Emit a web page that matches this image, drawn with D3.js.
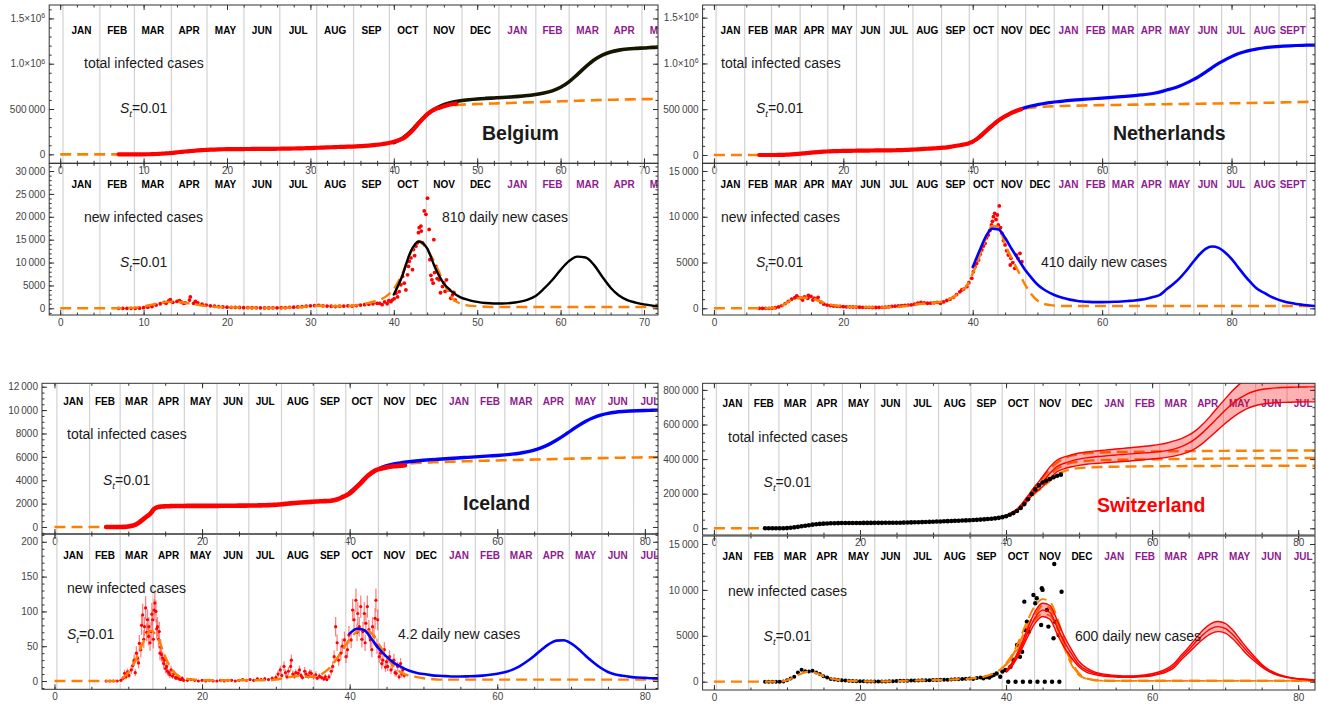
<!DOCTYPE html>
<html>
<head>
<meta charset="utf-8">
<script src="https://cdn.jsdelivr.net/npm/d3@7"></script>
<style>
body { margin: 0; background: #fff; }
svg text { font-family: "Liberation Sans", Arial, sans-serif; }
</style>
</head>
<body>
<svg id="chart" width="1318" height="705"></svg>
<script>
// month boundaries, in weeks counted from the end of Dec 2019
var monthStarts = [0.33, 4.76, 8.9, 13.33, 17.6, 22.03, 26.33, 30.76, 35.18, 39.47, 43.9, 48.18,
    52.6, 57.03, 61.03, 65.46, 69.76, 74.18, 78.47, 82.9, 87.33, 91.6];
var monthsYear1 = ["JAN", "FEB", "MAR", "APR", "MAY", "JUN", "JUL", "AUG", "SEP", "OCT", "NOV", "DEC"];
var monthsYear2 = ["JAN", "FEB", "MAR", "APR", "MAY", "JUN", "JUL", "AUG", "SEPT"];

// tick values
var beXTicks = [0, 10, 20, 30, 40, 50, 60, 70];
var wideXTicks = [0, 20, 40, 60, 80];
var beTotalTicks = [0, 500000, 1000000, 1500000];
var beNewTicks = [0, 5000, 10000, 15000, 20000, 25000, 30000];
var nlTotalTicks = [0, 500000, 1000000, 1500000];
var nlNewTicks = [0, 5000, 10000, 15000];
var icTotalTicks = [0, 2000, 4000, 6000, 8000, 10000, 12000];
var icNewTicks = [0, 50, 100, 150, 200];
var swTotalTicks = [0, 200000, 400000, 600000, 800000];
var swNewTicks = [0, 5000, 10000, 15000];

// ---------------- Belgium ----------------
// data sampled every half week from week 7
var beTotalData = [0, 0, 0, 1, 2, 50, 200, 700, 1500, 3400,
    6200, 9100, 12000, 16700, 22200, 26700, 31100, 35000, 39000, 42800,
    46100, 48500, 51000, 53000, 54600, 55800, 56800, 57300, 57800, 58200,
    58400, 58800, 59200, 59600, 60000, 60300, 60700, 61000, 61400, 61900,
    62500, 63300, 64300, 65400, 66700, 68000, 69400, 71000, 72800, 74700,
    76500, 78300, 80000, 81500, 83000, 84500, 86000, 88000, 90500, 93500,
    97000, 101000, 106000, 111000, 118000, 127000, 138000, 153000, 170000, 200000,
    240000, 290000, 345000, 395000, 440000, 475000, 500000, 515000, 530000, 544000,
    553000, 560000];
// model, weekly from week 40
var beTotalModel = [130000, 175000, 250000, 350000, 440000, 505000, 548000, 575000, 592000, 603000,
    611000, 617000, 622000, 627000, 633000, 640000, 649000, 660000, 676000, 700000,
    740000, 800000, 880000, 965000, 1040000, 1095000, 1130000, 1150000, 1162000, 1169000,
    1174000, 1180000, 1184000];
// first-wave fit, weekly from week 0
var beTotalFit = [0, 0, 0, 0, 0, 0, 0, 0, 0, 100,
    200, 1500, 6000, 12000, 22000, 31000, 39000, 46000, 51000, 54500,
    56800, 57800, 58400, 59200, 60000, 60700, 61400, 62500, 64300, 66700,
    69400, 72800, 76500, 80000, 83000, 86000, 90500, 97000, 106000, 118000,
    135000, 170000, 240000, 345000, 440000, 500000, 525000, 540000, 548000, 552000,
    555000, 558000, 561000, 564000, 567000, 570000, 573000, 576000, 579000, 582000,
    585000, 588000, 591000, 594000, 597000, 600000, 602000, 604000, 606000, 608000,
    609000, 610000, 611000];
var beNewEarly = [0, 0, 0, 0, 5, 40, 150, 250, 400, 700,
    1000, 1300, 1600, 1300, 1500, 1400, 1200, 1800, 1100, 1200,
    900, 700, 550, 450, 350, 300, 250, 220, 200, 180,
    150, 130, 120, 100, 100, 90, 90, 100, 100, 120,
    150, 200, 250, 300, 350, 450, 550, 600, 650, 550,
    500, 450, 400, 450, 500, 550, 500, 600, 700, 800,
    900, 1000, 1100];
var beNewScatter = [[12.7, 1100], [13.2, 1900], [14.3, 1700], [14.8, 1100], [15.6, 2500], [16.2, 1500],
    [38.3, 1100], [38.6, 800], [38.9, 1400], [39.2, 1000], [39.4, 1700], [39.65, 1450], [39.8, 1800],
    [40.05, 2100], [40.25, 3300], [40.45, 2500], [40.65, 3660], [40.85, 5130], [41.05, 6960], [41.25, 5500],
    [41.45, 4030], [41.65, 7330], [41.76, 9160], [41.85, 10260], [42.05, 11010], [42.24, 8440], [42.36, 12840],
    [42.5, 11500], [42.65, 13570], [42.84, 14320], [42.96, 16520], [43.05, 17620], [43.25, 17970], [43.3, 16870],
    [43.44, 14320], [43.65, 21280], [43.85, 20550], [44.04, 24070], [44.24, 17250], [44.33, 10640], [44.45, 7200],
    [44.57, 6230], [44.72, 5500], [44.8, 15000], [44.9, 7800], [45.05, 9160], [45.2, 6500], [45.44, 6230],
    [45.6, 3400], [45.84, 4760], [46.0, 5600], [46.15, 3700], [46.32, 6230], [46.45, 4300], [46.64, 4030],
    [46.84, 2200], [47.04, 2930], [47.2, 3500], [47.35, 1800]];
var beNewModel = [3000, 7000, 12300, 14600, 13100, 8700, 5400, 3600, 2400, 1800,
    1400, 1150, 1050, 1050, 1150, 1400, 1850, 2700, 4300, 6200,
    8400, 10300, 11300, 11100, 9500, 6900, 4500, 2800, 1800, 1250,
    850, 600, 450];
var beNewFit = [0, 0, 0, 0, 0, 0, 0, 0, 50, 150,
    400, 800, 1200, 1400, 1400, 1200, 900, 600, 400, 300,
    250, 200, 150, 120, 100, 100, 100, 120, 200, 300,
    450, 550, 500, 450, 450, 550, 800, 1200, 1700, 2500,
    4200, 7500, 12000, 14700, 12800, 9600, 5600, 2200, 1000, 600,
    450, 350, 300, 300, 300, 300, 300, 300, 300, 300,
    300, 300, 300, 300, 300, 300, 300, 300, 300, 300,
    300, 300, 300];

// ---------------- Netherlands ----------------
var nlTotalData = [0, 0, 0, 0, 20, 150, 500, 1200, 2500, 4200,
    6400, 9000, 11800, 15000, 18500, 22000, 25500, 28500, 31500, 34000,
    36500, 38500, 40000, 41500, 42700, 43700, 44500, 45200, 45800, 46300,
    46700, 47200, 47700, 48200, 48700, 49100, 49500, 49900, 50200, 50600,
    51000, 51500, 52100, 52900, 53900, 55000, 56300, 58000, 60000, 62000,
    64000, 66000, 68000, 70000, 72000, 74500, 77000, 80000, 84000, 89000,
    95000, 101000, 107000, 113000, 120000, 132000, 147000, 168000, 195000, 225000,
    258000, 290000, 320000, 350000, 378000, 402000, 423000, 442000, 460000, 475000,
    488000, 499000];
var nlTotalModel = [147000, 195000, 258000, 320000, 378000, 423000, 460000, 490000, 515000, 535000,
    550000, 563000, 573000, 582000, 589000, 596000, 602000, 607000, 612000, 617000,
    622000, 627000, 632000, 637000, 643000, 649000, 656000, 664000, 675000, 690000,
    710000, 730000, 755000, 785000, 820000, 860000, 905000, 955000, 1000000, 1040000,
    1075000, 1105000, 1128000, 1145000, 1160000, 1170000, 1178000, 1184000, 1189000, 1193000,
    1196000, 1198000, 1200000, 1201000];
var nlTotalFit = [0, 0, 0, 0, 0, 0, 0, 0, 0, 100,
    500, 2500, 6400, 11800, 18500, 25500, 31500, 36500, 40000, 42700,
    44500, 45800, 46700, 47700, 48700, 49500, 50200, 51000, 52100, 53900,
    56300, 60000, 64000, 68000, 72000, 77000, 84000, 95000, 107000, 120000,
    147000, 195000, 258000, 320000, 378000, 423000, 458000, 490000, 505000, 516000,
    523000, 528000, 531000, 534000, 536000, 538000, 539500, 541000, 542500, 544000,
    545000, 546000, 547000, 548000, 549000, 550000, 551000, 552000, 553000, 554000,
    555000, 556000, 557000, 558000, 559000, 560000, 561000, 562000, 563000, 564000,
    565000, 566000, 567000, 568000, 569000, 570000, 571500, 573000, 574500, 576000,
    577500, 579000, 580500, 582000];
var nlNewEarly = [0, 0, 0, 0, 10, 60, 150, 300, 500, 750,
    1000, 1150, 1200, 1100, 1250, 1100, 1300, 1100, 950, 700,
    450, 350, 300, 250, 220, 200, 180, 160, 150, 140,
    130, 120, 110, 100, 100, 90, 90, 100, 110, 120,
    150, 200, 230, 260, 300, 330, 350, 380, 450, 550,
    650, 600, 550, 560, 600, 650, 550, 700, 850, 1000,
    1200, 1500, 1800];
var nlNewScatter = [[12.8, 1350], [13.7, 900], [14.6, 1400], [15.3, 900], [16.1, 1200],
    [38.3, 2000], [38.6, 2100], [39.1, 2360], [39.4, 2800], [39.85, 3275], [40.1, 4000], [40.35, 4545],
    [40.6, 4900], [40.9, 5280], [41.15, 5900], [41.4, 6370], [41.65, 6800], [41.9, 7100], [42.15, 7700],
    [42.4, 8010], [42.65, 8500], [42.9, 9100], [43.05, 9500], [43.2, 10010], [43.4, 10370], [43.6, 9700],
    [43.8, 10190], [43.95, 9100], [44.1, 11180], [44.3, 8800], [44.5, 8190], [44.75, 7400], [45.0, 6920],
    [45.25, 6300], [45.5, 5820], [45.8, 4730], [45.9, 5460], [46.2, 5000], [46.5, 4370], [46.75, 5800],
    [47.0, 5460], [47.3, 6010], [47.6, 5090]];
var nlNewModel = [4500, 6200, 7800, 8700, 8600, 7700, 6500, 5400, 4300, 3400,
    2600, 2050, 1650, 1350, 1120, 950, 830, 750, 700, 680,
    680, 690, 710, 750, 800, 860, 950, 1080, 1250, 1500,
    2100, 2650, 3300, 4100, 5000, 5850, 6500, 6750, 6600, 6100,
    5400, 4500, 3600, 2800, 2100, 1700, 1300, 1000, 780, 600,
    470, 380, 300, 250];
var nlNewFit = [0, 0, 0, 0, 0, 0, 0, 0, 0, 20,
    150, 500, 900, 1100, 1150, 1100, 900, 600, 400, 280,
    200, 170, 150, 130, 110, 100, 100, 110, 150, 200,
    280, 380, 480, 550, 600, 700, 900, 1200, 1800, 2400,
    3800, 5600, 7600, 9000, 8900, 7000, 5500, 4100, 2700, 1600,
    850, 500, 350, 280, 250, 250, 250, 250, 250, 250,
    250, 250, 250, 250, 250, 250, 250, 250, 250, 250,
    250, 250, 250, 250, 250, 250, 250, 250, 250, 250,
    250, 250, 250, 250, 250, 250, 250, 250, 250, 250,
    250, 250, 250, 250];

// ---------------- Iceland ----------------
var icTotalData = [0, 0, 0, 0, 2, 10, 40, 100, 200, 400,
    650, 900, 1150, 1550, 1700, 1750, 1770, 1780, 1790, 1795,
    1800, 1802, 1803, 1805, 1806, 1806, 1807, 1807, 1808, 1808,
    1810, 1812, 1815, 1818, 1820, 1822, 1825, 1828, 1832, 1836,
    1840, 1845, 1850, 1860, 1870, 1885, 1900, 1930, 1960, 1990,
    2020, 2050, 2080, 2100, 2120, 2140, 2160, 2180, 2200, 2210,
    2220, 2250, 2300, 2400, 2550, 2700, 2880, 3150, 3450, 3750,
    4100, 4400, 4650, 4850, 4950, 5030, 5100, 5150, 5190, 5220,
    5250, 5280];
var icTotalModel = [2950, 3500, 4100, 4600, 5000, 5250, 5400, 5500, 5580, 5650,
    5710, 5760, 5800, 5840, 5880, 5920, 5960, 6000, 6040, 6080,
    6120, 6170, 6230, 6310, 6420, 6580, 6790, 7070, 7420, 7820,
    8250, 8670, 9050, 9350, 9570, 9720, 9820, 9880, 9920, 9950,
    9970, 9985, 10000];
var icTotalFit = [0, 0, 0, 0, 0, 0, 0, 0, 0, 2,
    40, 200, 650, 1150, 1700, 1770, 1790, 1800, 1803, 1806,
    1807, 1808, 1810, 1815, 1820, 1825, 1832, 1840, 1850, 1870,
    1900, 1960, 2020, 2080, 2120, 2160, 2200, 2220, 2300, 2550,
    2880, 3450, 4100, 4600, 4950, 5150, 5280, 5370, 5430, 5470,
    5500, 5525, 5550, 5570, 5590, 5610, 5630, 5650, 5665, 5680,
    5695, 5710, 5725, 5740, 5755, 5770, 5785, 5800, 5815, 5830,
    5845, 5860, 5872, 5884, 5896, 5908, 5920, 5930, 5940, 5948,
    5955, 5962, 5970];
// daily cases: [week, cases, error]
var icNewData = [[7, 0, 0], [7.5, 0, 0], [8, 0, 0], [8.5, 0, 0], [9, 1, 1],
    [9.3, 4, 3], [9.5, 11, 5], [9.7, 6, 4], [9.9, 13, 5], [10.1, 8, 4], [10.4, 16, 6], [10.6, 22, 7],
    [10.8, 30, 8], [10.95, 12, 5], [11.1, 40, 10], [11.25, 33, 9], [11.4, 26, 8], [11.5, 54, 12],
    [11.7, 45, 11], [11.8, 80, 14], [11.95, 95, 16], [12.1, 60, 13], [12.2, 78, 14], [12.35, 105, 17],
    [12.5, 70, 13], [12.6, 88, 15], [12.75, 64, 13], [12.8, 78, 14], [12.95, 55, 12], [13.1, 71, 14],
    [13.2, 96, 16], [13.3, 88, 15], [13.4, 60, 13], [13.5, 102, 16], [13.6, 112, 17], [13.75, 100, 16],
    [13.85, 75, 14], [13.96, 78, 14], [14.1, 60, 13], [14.2, 71, 14], [14.3, 40, 10], [14.4, 49, 11],
    [14.5, 38, 10], [14.65, 33, 9], [14.8, 25, 8], [14.9, 30, 9], [15.05, 18, 7], [15.2, 21, 7],
    [15.3, 14, 6], [15.5, 12, 5], [15.65, 9, 5], [15.8, 16, 6], [16.0, 7, 4], [16.2, 11, 5],
    [16.4, 5, 3], [16.5, 4, 3], [16.7, 6, 4], [16.9, 3, 3], [17.1, 2, 2], [17.3, 4, 3], [17.5, 1, 2],
    [18, 1, 2], [18.5, 2, 2], [19, 1, 1], [19.5, 0, 1], [20, 1, 1], [20.5, 0, 1], [21, 1, 1],
    [21.5, 0, 1], [22, 0, 1], [22.5, 1, 1], [23, 0, 1], [23.5, 1, 1], [24, 1, 1], [24.5, 0, 1],
    [25, 1, 2], [25.5, 2, 2], [26, 1, 1], [26.5, 2, 2], [27, 1, 2], [27.5, 3, 3], [28, 2, 2],
    [28.5, 3, 3], [29, 2, 2], [29.5, 4, 3],
    [30, 5, 4], [30.3, 10, 5], [30.6, 16, 6], [30.8, 8, 4], [31.1, 21, 7], [31.3, 12, 5], [31.5, 6, 4],
    [31.7, 14, 6], [32.0, 21, 7], [32.1, 30, 8], [32.3, 10, 5], [32.5, 7, 4], [32.7, 12, 5], [33.0, 11, 5],
    [33.2, 16, 6], [33.4, 8, 4], [33.6, 5, 3], [33.9, 14, 6], [34.1, 10, 5], [34.4, 7, 4], [34.6, 12, 5],
    [34.8, 11, 5], [35.1, 6, 4], [35.4, 9, 5], [35.6, 4, 3], [35.9, 7, 4], [36.2, 5, 3], [36.5, 3, 3],
    [36.7, 6, 4], [36.9, 2, 2], [37.2, 6, 4],
    [37.5, 14, 6], [37.7, 21, 7], [37.9, 35, 9], [38.1, 78, 14], [38.3, 55, 12], [38.5, 30, 8],
    [38.8, 40, 10], [39.0, 50, 11], [39.3, 59, 12], [39.5, 35, 9], [39.7, 45, 11], [39.9, 66, 13],
    [40.2, 59, 12], [40.4, 102, 16], [40.6, 88, 15], [40.85, 116, 17], [41.0, 70, 13], [41.1, 97, 16],
    [41.3, 78, 14], [41.5, 107, 16], [41.65, 60, 12], [41.8, 71, 14], [41.98, 97, 16], [42.1, 55, 12],
    [42.2, 83, 15], [42.4, 107, 16], [42.6, 74, 14], [42.8, 59, 12], [43.0, 45, 11], [43.1, 78, 14],
    [43.3, 64, 13], [43.45, 90, 15], [43.56, 116, 17], [43.7, 50, 11], [43.8, 88, 15], [44.0, 35, 9],
    [44.2, 40, 10], [44.35, 25, 8], [44.5, 30, 9], [44.7, 45, 11], [44.85, 20, 7], [45.0, 28, 8],
    [45.15, 21, 7], [45.4, 35, 9], [45.6, 16, 6], [45.8, 24, 8], [46.0, 30, 9], [46.15, 12, 5],
    [46.3, 11, 5], [46.5, 21, 7], [46.7, 6, 4], [46.9, 25, 8], [47.05, 10, 5], [47.2, 16, 6], [47.4, 8, 4]];
var icNewModel = [68, 75, 73, 60, 46, 35, 26, 20, 15, 12,
    10, 8.5, 7.5, 7, 6.5, 6.5, 6.7, 7, 7.8, 9,
    10.5, 12.5, 16, 21, 28, 36, 45, 53, 58, 58.5,
    54, 46, 36, 27, 19, 13, 9.5, 7.5, 6, 5,
    4.5, 4, 3.8];
var icNewFit = [0, 0, 0, 0, 0, 0, 0, 0, 0, 3,
    12, 30, 55, 72, 62, 35, 15, 6, 3, 2,
    1, 1, 1, 1, 1, 1, 1, 1, 1, 1,
    2, 4, 6, 7, 6, 6, 9, 16, 28, 44,
    60, 71, 75, 68, 52, 35, 21, 12, 8, 6,
    4, 3, 2, 2, 2, 2, 2, 2, 2, 2,
    2, 2, 2, 2, 2, 2, 2, 2, 2, 2,
    2, 2, 2, 2, 2, 2, 2, 2, 2, 2,
    2, 2, 2];

// ---------------- Switzerland ----------------
var swTotalData = [0, 0, 0, 10, 30, 300, 1200, 3000, 5500, 8500,
    12000, 15000, 18000, 21000, 23500, 25500, 27000, 28200, 29000, 29600,
    30000, 30300, 30500, 30700, 30800, 30900, 31000, 31100, 31200, 31300,
    31400, 31500, 31600, 31700, 31800, 32000, 32200, 32500, 32900, 33400,
    34000, 34600, 35300, 36000, 36700, 37400, 38100, 38900, 39700, 40500,
    41300, 42100, 43000, 43900, 44800, 45700, 46600, 47700, 48900, 50200,
    51700, 53400, 55300, 57600, 60500, 64500, 70000, 78000, 88000, 100000,
    118000, 140000, 168000, 198000, 225000, 248000, 265000, 275000, 285000, 295000,
    304000, 310000];
var swTotalMid = [72000, 92000, 125000, 175000, 225000, 266000, 318000, 358000, 376000, 390000,
    400000, 407000, 412000, 416000, 420000, 424000, 427000, 430000, 433000, 436000,
    439000, 443000, 449000, 458000, 472000, 492000, 520000, 556000, 597000, 640000,
    682000, 720000, 752000, 776000, 792000, 802000, 808000, 812000, 814000, 815500,
    816500, 817000, 817500, 818000];
var swTotalHi = [74000, 96000, 132000, 188000, 245000, 298000, 355000, 395000, 413000, 425000,
    435000, 441000, 446000, 450000, 454000, 458000, 462000, 466000, 470000, 474000,
    479000, 485000, 493000, 505000, 518000, 538000, 566000, 604000, 650000, 700000,
    748000, 795000, 835000, 866000, 886000, 899000, 907000, 912000, 915000, 917000,
    918500, 919500, 920000, 920500];
var swTotalLo = [70000, 88000, 118000, 163000, 207000, 240000, 288000, 328000, 345000, 356000,
    364000, 370000, 374000, 377000, 380000, 383000, 386000, 389000, 393000, 397000,
    401000, 405000, 410000, 417000, 427000, 442000, 464000, 494000, 531000, 569000,
    606000, 640000, 669000, 692000, 707000, 717000, 723000, 726000, 728000, 729000,
    730000, 730500, 731000, 731000];
var swTotalFitMid = [0, 0, 0, 0, 0, 0, 0, 0, 0, 30,
    1200, 5500, 12000, 18000, 23500, 27000, 29000, 30000, 30500, 30800,
    31000, 31200, 31400, 31600, 31800, 32200, 32900, 34000, 35300, 36700,
    38100, 39700, 41300, 43000, 44800, 46600, 48900, 51700, 55300, 60500,
    70000, 90000, 125000, 175000, 225000, 266000, 310000, 345000, 368000, 380000,
    386000, 390000, 392500, 394000, 395000, 395800, 396500, 397200, 397800, 398400,
    399000, 399500, 400000, 400500, 401000, 401400, 401800, 402200, 402600, 403000,
    403300, 403600, 403900, 404200, 404500, 404800, 405000, 405200, 405400, 405600,
    405800, 406000, 406200, 406400];
var swTotalFitHi = [72000, 93000, 130000, 185000, 240000, 290000, 340000, 380000, 405000, 420000,
    428000, 433000, 436000, 438000, 439500, 440500, 441300, 442000, 442700, 443300,
    443900, 444400, 444900, 445300, 445700, 446100, 446500, 446800, 447100, 447400,
    447700, 448000, 448200, 448400, 448600, 448800, 449000, 449200, 449300, 449400,
    449500, 449600, 449700, 449800];
var swTotalFitLo = [68000, 87000, 118000, 162000, 205000, 238000, 275000, 310000, 330000, 342000,
    348000, 351000, 353000, 354500, 355500, 356200, 356800, 357300, 357800, 358200,
    358600, 358900, 359200, 359500, 359700, 359900, 360100, 360300, 360500, 360600,
    360700, 360800, 360900, 361000, 361100, 361200, 361300, 361400, 361500, 361500,
    361600, 361600, 361700, 361700];
var swNewEarly = [0, 0, 0, 0, 5, 30, 150, 350, 550, 1000,
    1300, 1150, 1100, 1200, 1000, 850, 600, 450, 300, 250,
    180, 150, 120, 100, 80, 60, 50, 40, 30, 30,
    25, 25, 20, 30, 40, 60, 80, 90, 100, 110,
    120, 130, 140, 150, 160, 170, 180, 190, 200, 210,
    220, 240, 260, 280, 300, 320, 350, 300, 400, 450];
var swNewScatter = [[36.9, 370], [37.3, 500], [37.7, 450], [38.0, 650], [38.3, 730], [38.7, 900],
    [39.2, 545], [39.5, 1100], [39.9, 1270], [40.3, 0], [40.6, 1630], [41.0, 2360], [41.3, 0],
    [41.5, 4000], [41.9, 2720], [42.2, 3270], [42.3, 0], [42.5, 8720], [42.6, 5630], [42.85, 6540],
    [43.1, 5450], [43.3, 0], [43.75, 9450], [44.0, 8540], [44.2, 9090], [44.3, 0], [44.8, 6180],
    [44.9, 10180], [45.0, 10000], [45.3, 0], [45.6, 7810], [45.8, 6000], [46.3, 0], [46.5, 4730],
    [46.6, 12820], [46.7, 6540], [47.2, 5090], [47.3, 0], [47.6, 9800]];
var swNewMid = [1100, 2100, 3600, 5400, 7000, 7800, 7550, 5900, 4300, 3000,
    1850, 1250, 950, 770, 650, 590, 560, 560, 585, 645,
    750, 940, 1240, 1740, 2650, 3450, 4350, 5150, 5750, 6000,
    5820, 5170, 4250, 3300, 2500, 1750, 1200, 830, 580, 420,
    310, 245, 195, 165];
var swNewHi = [1200, 2300, 3900, 5900, 7700, 8550, 8300, 6700, 4900, 3450,
    2200, 1500, 1100, 880, 750, 670, 630, 630, 660, 730,
    860, 1080, 1420, 1980, 2900, 3750, 4750, 5650, 6300, 6550,
    6350, 5650, 4650, 3650, 2750, 1900, 1300, 900, 630, 450,
    330, 260, 210, 175];
var swNewLo = [1000, 1900, 3300, 4950, 6400, 7100, 6800, 5200, 3700, 2550,
    1600, 1050, 800, 650, 560, 510, 490, 490, 510, 560,
    650, 820, 1080, 1520, 2400, 3150, 3950, 4650, 5200, 5450,
    5300, 4700, 3850, 2950, 2250, 1600, 1100, 760, 540, 390,
    290, 230, 185, 155];
var swNewFitMid = [0, 0, 0, 0, 0, 0, 0, 0, 0, 10,
    150, 500, 900, 1100, 950, 600, 350, 200, 130, 90,
    60, 45, 35, 35, 45, 70, 100, 120, 140, 160,
    180, 200, 220, 250, 290, 340, 420, 550, 800, 1200,
    1900, 3000, 4500, 6200, 7300, 8300, 8000, 6400, 4000, 2000,
    800, 350, 180, 120, 100, 100, 100, 100, 100, 100,
    100, 100, 100, 100, 100, 100, 100, 100, 100, 100,
    100, 100, 100, 100, 100, 100, 100, 100, 100, 100,
    100, 100, 100, 100];
var swNewFitHi = [2000, 3200, 4900, 6800, 8300, 9000, 8700, 7000, 4400, 2200,
    900, 380, 190, 130, 110, 110, 110, 110, 110, 110,
    110, 110, 110, 110, 110, 110, 110, 110, 110, 110,
    110, 110, 110, 110, 110, 110, 110, 110, 110, 110,
    110, 110, 110, 110];
var swNewFitLo = [1800, 2800, 4200, 5700, 6800, 7400, 7200, 5800, 3600, 1800,
    700, 320, 170, 110, 90, 90, 90, 90, 90, 90,
    90, 90, 90, 90, 90, 90, 90, 90, 90, 90,
    90, 90, 90, 90, 90, 90, 90, 90, 90, 90,
    90, 90, 90, 90];

var ORANGE = "#ff8000";
var PURPLE = "#8e1a8e";

var monthLabels = monthsYear1.map(function (m) { return {name: m, year: 1}; })
    .concat(monthsYear2.map(function (m) { return {name: m, year: 2}; }));
monthLabels.forEach(function (d, i) { d.mid = (monthStarts[i] + monthStarts[i + 1]) / 2; });

function toPoints(values, start, step) {
    return values.map(function (v, i) { return [start + i * step, v]; });
}

function formatTick(v) {
    if (v >= 1000000) return (v / 1000000).toFixed(1) + "\u00d710";
    if (v >= 10000) return d3.format(",")(v).replace(/,/g, "\u2009");
    return String(v);
}

CasePanel = function (_parentElement, _config) {
    this.parentElement = _parentElement;
    this.config = _config;
    this.initVis();
}

CasePanel.prototype.initVis = function () {
    var vis = this;
    var c = vis.config;
    vis.svg = d3.select("#" + vis.parentElement);

    vis.xScale = d3.scaleLinear().domain(c.xDomain).range([c.left, c.right]);
    vis.yScale = d3.scaleLinear().domain(c.yDomain).range([c.bottom, c.top]);

    vis.svg.append("clipPath").attr("id", "clip-" + c.name)
        .append("rect")
        .attr("x", c.left).attr("y", c.top)
        .attr("width", c.right - c.left).attr("height", c.bottom - c.top);

    vis.g = vis.svg.append("g").attr("class", "panel " + c.name);
    vis.plot = vis.g.append("g").attr("clip-path", "url(#clip-" + c.name + ")");
    vis.updateVis();
}

CasePanel.prototype.drawLayer = function (layer) {
    var vis = this;
    var x = vis.xScale, y = vis.yScale;
    var line = d3.line()
        .x(function (d) { return x(d[0]); })
        .y(function (d) { return y(d[1]); })
        .curve(d3.curveMonotoneX);

    if (layer.kind === "dash" || layer.kind === "curve" || layer.kind === "thick") {
        var path = vis.plot.append("path")
            .datum(toPoints(layer.values, layer.start, layer.step))
            .attr("d", line)
            .attr("fill", "none")
            .attr("stroke", layer.kind === "dash" ? ORANGE : layer.color)
            .attr("stroke-width", layer.width || 2.5)
            .attr("stroke-linecap", "round");
        if (layer.kind === "dash") path.attr("stroke-dasharray", "11,6").attr("stroke-linecap", "butt");
    }
    if (layer.kind === "dots" || layer.kind === "points") {
        var pts = layer.kind === "dots" ? toPoints(layer.values, layer.start, layer.step) : layer.pairs;
        vis.plot.append("g").selectAll("circle")
            .data(pts).enter().append("circle")
            .attr("cx", function (d) { return x(d[0]); })
            .attr("cy", function (d) { return y(d[1]); })
            .attr("r", layer.r || 1.9)
            .attr("fill", layer.color);
    }
    if (layer.kind === "errpoints") {
        var eg = vis.plot.append("g");
        eg.selectAll("line").data(layer.triples).enter().append("line")
            .attr("x1", function (d) { return x(d[0]); })
            .attr("x2", function (d) { return x(d[0]); })
            .attr("y1", function (d) { return y(d[1] - d[2]); })
            .attr("y2", function (d) { return y(d[1] + d[2]); })
            .attr("stroke", "#ff5a5a").attr("stroke-width", 1.3).attr("opacity", 0.75);
        eg.selectAll("circle").data(layer.triples).enter().append("circle")
            .attr("cx", function (d) { return x(d[0]); })
            .attr("cy", function (d) { return y(d[1]); })
            .attr("r", 1.6).attr("fill", "#ff0000");
    }
    if (layer.kind === "band") {
        var rows = layer.mid.map(function (m, i) {
            return {x: layer.start + i * layer.step, lo: layer.lo[i], mid: m, hi: layer.hi[i]};
        });
        var area = d3.area()
            .x(function (d) { return x(d.x); })
            .y0(function (d) { return y(d.lo); })
            .y1(function (d) { return y(d.hi); })
            .curve(d3.curveMonotoneX);
        vis.plot.append("path").datum(rows).attr("d", area)
            .attr("fill", "#ff0000").attr("fill-opacity", 0.3);
        ["lo", "mid", "hi"].forEach(function (k) {
            vis.plot.append("path")
                .datum(rows.map(function (d) { return [d.x, d[k]]; }))
                .attr("d", line).attr("fill", "none")
                .attr("stroke", "#ff0000").attr("stroke-width", 1.4);
        });
    }
}

CasePanel.prototype.updateVis = function () {
    var vis = this;
    var c = vis.config;
    var x = vis.xScale, y = vis.yScale;

    // month grid lines
    var grid = monthStarts.filter(function (m) { return m > c.xDomain[0] && m < c.xDomain[1]; });
    vis.plot.selectAll("line.grid")
        .data(grid).enter().append("line")
        .attr("class", "grid")
        .attr("x1", function (d) { return x(d); })
        .attr("x2", function (d) { return x(d); })
        .attr("y1", c.top).attr("y2", c.bottom)
        .attr("stroke", "#d2d2d2").attr("stroke-width", 1.2);

    // month names (only the ones that reach into this panel)
    var shown = monthLabels.filter(function (d) { return d.mid < c.xDomain[1] + 1.5; });
    vis.plot.selectAll("text.month")
        .data(shown).enter().append("text")
        .attr("class", "month")
        .attr("x", function (d) { return x(d.mid); })
        .attr("y", c.monthY).attr("dy", "0.35em")
        .attr("text-anchor", "middle")
        .attr("font-size", 10).attr("font-weight", "bold")
        .attr("fill", function (d) { return d.year === 1 ? "#000" : PURPLE; })
        .text(function (d) { return d.name; });

    c.layers.forEach(function (layer) { vis.drawLayer(layer); });

    // frame
    vis.g.append("rect")
        .attr("x", c.left).attr("y", c.top)
        .attr("width", c.right - c.left).attr("height", c.bottom - c.top)
        .attr("fill", "none").attr("stroke", "#333").attr("stroke-width", 1);

    var xMinor = d3.range(Math.ceil(c.xDomain[0] / c.xMinor) * c.xMinor, c.xDomain[1], c.xMinor);
    var yMinor = d3.range(Math.ceil(c.yDomain[0] / c.yMinor) * c.yMinor, c.yDomain[1], c.yMinor);

    function styleAxis(g) {
        g.select(".domain").remove();
        g.selectAll(".tick line").attr("stroke", "#333");
        g.selectAll(".tick text").attr("fill", "#444").attr("font-size", 10)
            .attr("font-family", "Liberation Sans, Arial, sans-serif");
    }

    var axes = [
        {make: function () { return d3.axisBottom(x); }, pos: "translate(0," + c.bottom + ")", ticks: c.xTicks, minor: xMinor, labels: true},
        {make: function () { return d3.axisTop(x); }, pos: "translate(0," + c.top + ")", ticks: c.xTicks, minor: xMinor, labels: false},
        {make: function () { return d3.axisLeft(y); }, pos: "translate(" + c.left + ",0)", ticks: c.yTicks, minor: yMinor, labels: true},
        {make: function () { return d3.axisRight(y); }, pos: "translate(" + c.right + ",0)", ticks: c.yTicks, minor: yMinor, labels: false}
    ];
    axes.forEach(function (a) {
        var minorAxis = a.make().tickValues(a.minor).tickSize(-2.5).tickFormat("");
        vis.g.append("g").attr("transform", a.pos).call(minorAxis).call(styleAxis);
        var majorAxis = a.make().tickValues(a.ticks).tickSize(-5).tickPadding(4)
            .tickFormat(a.labels ? formatTick : "");
        var ag = vis.g.append("g").attr("transform", a.pos).call(majorAxis).call(styleAxis);
        ag.selectAll(".tick text").filter(function (d) { return a.labels && d >= 1000000; })
            .append("tspan").attr("dy", "-0.55em").attr("font-size", 7).text("6");
    });

    // annotations
    c.notes.forEach(function (n) {
        var t = vis.g.append("text")
            .attr("x", n.x).attr("y", n.y).attr("dy", "0.35em")
            .attr("fill", n.color || "#1a1a1a");
        if (n.kind === "st") {
            t.attr("font-size", 14);
            t.append("tspan").attr("font-style", "italic").text("S");
            t.append("tspan").attr("font-style", "italic").attr("font-size", 9.5).attr("dy", 4).text("t");
            t.append("tspan").attr("dy", -4).text("=0.01");
        } else if (n.kind === "country") {
            t.attr("font-size", 19.5).attr("font-weight", "bold").text(n.text);
        } else {
            t.attr("font-size", 14).text(n.text);
        }
    });
}

var panels = [
    {name: "beTotal", left: 49.2, right: 658, top: 5, bottom: 163.3,
        xDomain: [-1.32, 71.68], yDomain: [-99000, 1648000],
        xTicks: beXTicks, xMinor: 2, yTicks: beTotalTicks, yMinor: 100000, monthY: 30.7,
        notes: [{text: "total infected cases", x: 84, y: 63}, {kind: "st", x: 120, y: 108},
            {kind: "country", text: "Belgium", x: 482, y: 133}],
        layers: [
            {kind: "dash", values: beTotalFit, start: 0, step: 1, width: 2.6},
            {kind: "curve", values: beTotalModel, start: 40, step: 1, color: "#151500", width: 3.6},
            {kind: "thick", values: beTotalData, start: 7, step: 0.5, color: "#ff0000", width: 4.2}
        ]},
    {name: "beNew", left: 49.2, right: 658, top: 163.3, bottom: 315,
        xDomain: [-1.32, 71.68], yDomain: [-1460, 31690],
        xTicks: beXTicks, xMinor: 2, yTicks: beNewTicks, yMinor: 1000, monthY: 184.3,
        notes: [{text: "new infected cases", x: 84, y: 217.3}, {kind: "st", x: 120, y: 261.7},
            {text: "810 daily new cases", x: 442, y: 217.3}],
        layers: [
            {kind: "dots", values: beNewEarly, start: 7, step: 0.5, color: "#ff0000"},
            {kind: "points", pairs: beNewScatter, color: "#ff0000"},
            {kind: "dash", values: beNewFit, start: 0, step: 1, width: 2.4},
            {kind: "curve", values: beNewModel, start: 40, step: 1, color: "#000", width: 2.4}
        ]},
    {name: "nlTotal", left: 702.6, right: 1315, top: 5, bottom: 163.3,
        xDomain: [-1.75, 92.9], yDomain: [-90700, 1638600],
        xTicks: wideXTicks, xMinor: 5, yTicks: nlTotalTicks, yMinor: 100000, monthY: 30.7,
        notes: [{text: "total infected cases", x: 721, y: 63}, {kind: "st", x: 756, y: 108},
            {kind: "country", text: "Netherlands", x: 1113, y: 133}],
        layers: [
            {kind: "dash", values: nlTotalFit, start: 0, step: 1, width: 2.6},
            {kind: "curve", values: nlTotalModel, start: 40, step: 1, color: "#0000ff", width: 3.2},
            {kind: "thick", values: nlTotalData, start: 7, step: 0.5, color: "#ff0000", width: 4.2}
        ]},
    {name: "nlNew", left: 702.6, right: 1315, top: 163.3, bottom: 315,
        xDomain: [-1.75, 92.9], yDomain: [-732, 15840],
        xTicks: wideXTicks, xMinor: 5, yTicks: nlNewTicks, yMinor: 1000, monthY: 184.3,
        notes: [{text: "new infected cases", x: 721, y: 216.7}, {kind: "st", x: 756, y: 261.7},
            {text: "410 daily new cases", x: 1041, y: 261.7}],
        layers: [
            {kind: "dots", values: nlNewEarly, start: 7, step: 0.5, color: "#ff0000"},
            {kind: "points", pairs: nlNewScatter, color: "#ff0000"},
            {kind: "dash", values: nlNewFit, start: 0, step: 1, width: 2.4},
            {kind: "curve", values: nlNewModel, start: 40, step: 1, color: "#0000ff", width: 2.6}
        ]},
    {name: "icTotal", left: 42, right: 658, top: 383.3, bottom: 534,
        xDomain: [-1.69, 81.78], yDomain: [-599, 12293],
        xTicks: wideXTicks, xMinor: 5, yTicks: icTotalTicks, yMinor: 500, monthY: 401.7,
        notes: [{text: "total infected cases", x: 67, y: 434}, {kind: "st", x: 103, y: 480},
            {kind: "country", text: "Iceland", x: 463, y: 503}],
        layers: [
            {kind: "dash", values: icTotalFit, start: 0, step: 1, width: 2.6},
            {kind: "curve", values: icTotalModel, start: 40, step: 1, color: "#0000ff", width: 3.4},
            {kind: "thick", values: icTotalData, start: 7, step: 0.5, color: "#ff0000", width: 4.6}
        ]},
    {name: "icNew", left: 42, right: 658, top: 534, bottom: 689.3,
        xDomain: [-1.69, 81.78], yDomain: [-11.9, 211.2],
        xTicks: wideXTicks, xMinor: 5, yTicks: icNewTicks, yMinor: 10, monthY: 555.7,
        notes: [{text: "new infected cases", x: 67, y: 588.3}, {kind: "st", x: 67, y: 634},
            {text: "4.2 daily new cases", x: 398, y: 634}],
        layers: [
            {kind: "errpoints", triples: icNewData},
            {kind: "dash", values: icNewFit, start: 0, step: 1, width: 2.4},
            {kind: "curve", values: icNewModel, start: 40, step: 1, color: "#0000ff", width: 2.6}
        ]},
    {name: "swTotal", left: 702.6, right: 1315, top: 383.3, bottom: 535,
        xDomain: [-1.55, 82.3], yDomain: [-38700, 838150],
        xTicks: wideXTicks, xMinor: 5, yTicks: swTotalTicks, yMinor: 50000, monthY: 403.3,
        notes: [{text: "total infected cases", x: 728, y: 436.7}, {kind: "st", x: 763.6, y: 482.3},
            {kind: "country", text: "Switzerland", x: 1097, y: 505, color: "#ff0000"}],
        layers: [
            {kind: "dash", values: swTotalFitMid, start: 0, step: 1, width: 2.4},
            {kind: "dash", values: swTotalFitHi, start: 40, step: 1, width: 2.4},
            {kind: "dash", values: swTotalFitLo, start: 40, step: 1, width: 2.4},
            {kind: "band", lo: swTotalLo, mid: swTotalMid, hi: swTotalHi, start: 40, step: 1},
            {kind: "dots", values: swTotalData, start: 7, step: 0.5, color: "#000", r: 2.3}
        ]},
    {name: "swNew", left: 702.6, right: 1315, top: 536, bottom: 690,
        xDomain: [-1.55, 82.3], yDomain: [-904, 15870],
        xTicks: wideXTicks, xMinor: 5, yTicks: swNewTicks, yMinor: 1000, monthY: 556.7,
        notes: [{text: "new infected cases", x: 728, y: 590.7}, {kind: "st", x: 763.6, y: 636},
            {text: "600 daily new cases", x: 1075, y: 636}],
        layers: [
            {kind: "dots", values: swNewEarly, start: 7, step: 0.5, color: "#000", r: 2},
            {kind: "points", pairs: swNewScatter, color: "#000", r: 2.2},
            {kind: "dash", values: swNewFitMid, start: 0, step: 1, width: 2.2},
            {kind: "dash", values: swNewFitHi, start: 40, step: 1, width: 1.8},
            {kind: "dash", values: swNewFitLo, start: 40, step: 1, width: 1.8},
            {kind: "band", lo: swNewLo, mid: swNewMid, hi: swNewHi, start: 40, step: 1}
        ]}
];

panels.forEach(function (p) { new CasePanel("chart", p); });
</script>
</body>
</html>
